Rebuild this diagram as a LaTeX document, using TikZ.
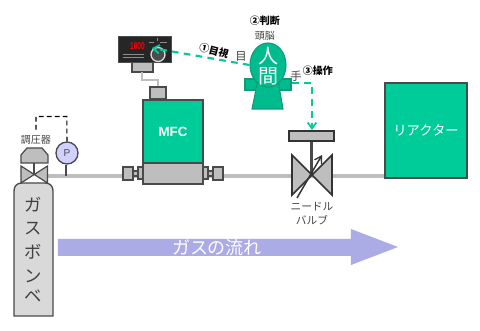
\documentclass[tikz,border=0pt]{standalone}
\usepackage{fontspec}
\setmainfont{Noto Sans CJK JP}
\newfontfamily\latinface{Liberation Sans}
\usetikzlibrary{shapes.geometric,arrows.meta,calc}
\definecolor{teal}{HTML}{00CC99}
\definecolor{mangreen}{HTML}{00BB8E}
\definecolor{manedge}{HTML}{129A78}
\definecolor{edge}{HTML}{4A4A4A}
\definecolor{metal}{HTML}{BEBEBE}
\definecolor{flow}{HTML}{ABABE6}
\definecolor{caption}{HTML}{444444}
\newcommand{\jp}[1]{\fontsize{#1}{#1}\selectfont}
\tikzset{
  metalbox/.style={draw=edge,line width=1pt,fill=metal,inner sep=0pt},
  greenbox/.style={draw=edge,line width=1.2pt,fill=teal,inner sep=0pt,text=white},
  pipe/.style={metal,line width=3.4pt},
  manpart/.style={draw=manedge,line width=0.8pt,fill=mangreen},
  cue/.style={teal,line width=1.6pt,dash pattern=on 5pt off 4pt,-{Straight Barb[length=4.5pt,width=6.5pt,line width=1.3pt]}},
  graytext/.style={text=caption,inner sep=0pt,font=\jp{7.5}},
  boldtext/.style={text=black,inner sep=0pt,font=\bfseries\jp{7.5}},
  tinymark/.style={line width=0.5pt,color=#1},
}
\begin{document}
\begin{tikzpicture}[x=0.75pt,y=-0.75pt]
\useasboundingbox (0,0) rectangle (480,331);
\fill[white] (0,0) rectangle (480,331);

% main gas line
\coordinate (linestart) at (48,176);
\coordinate (lineend) at (385,176);
\draw[pipe] (linestart) -- (lineend);

% flow arrow
\fill[flow] (58,239) -- (351,239) -- (351,229) -- (398,247) -- (351,265) -- (351,256) -- (58,256) -- cycle;
\node[text=white,inner sep=0pt,font=\jp{13.5}] (flowlabel) at (217,248) {ガスの流れ};

% reactor
\node[greenbox,minimum width=82pt*0.75,minimum height=95pt*0.75,font=\jp{10}] (reactor) at (426,130.5) {リアクター};

% cylinder
\draw[draw=edge,line width=1pt,fill=black!15] (14,316) -- (14,191) .. controls (14,186) and (17,183) .. (22,183) -- (45,183) .. controls (50,183) and (53,186) .. (53,191) -- (53,316) -- cycle;
\foreach \ch/\yy in {ガ/205,ス/229,ボ/252,ン/276,ベ/296}
  \node[text=black!75,inner sep=0pt,font=\jp{13}] at (33,\yy) {\ch};

% regulator
\draw[edge,line width=1.6pt] (34,162) -- (34,175);
\draw[draw=edge,line width=0.9pt,fill=metal] (21,166) -- (47.5,183) -- (47.5,166) -- (21,183) -- cycle;
\draw[draw=edge,line width=0.9pt,fill=metal] (21,163) -- (21,155) -- (27,148) -- (42,148) -- (48,155) -- (48,163) -- cycle;
\node[graytext] (reglabel) at (36,140) {調圧器};

% pressure gauge
\draw[edge,line width=2pt] (66,165) -- (66,176);
\node[circle,draw=edge,line width=1pt,fill=blue!18,minimum size=16.5pt,inner sep=0pt,font=\latinface\jp{7.5},text=edge] (gauge) at (67,153) {P};
\coordinate (regtap) at (36,131);
\draw[black,line width=0.8pt,dash pattern=on 3.5pt off 2.5pt] (gauge.north) -- (66.8,116.5) -- (36,116.5) -- (regtap);

% mass flow controller
\node[greenbox,minimum width=60pt*0.75,minimum height=63pt*0.75,font=\latinface\bfseries\jp{10}] (mfc) at (173,131.5) {MFC};
\node[metalbox,minimum width=60pt*0.75,minimum height=21pt*0.75] (mfcbase) at (173,173.5) {};
\node[metalbox,minimum width=16pt*0.75,minimum height=12pt*0.75] (mfctop) at (158,93) {};
\foreach \xa/\xb/\ya/\yb in {138/143/167/179, 133/138/171/176, 123/133/167/180, 203/208/167/179, 208/213/171/176, 213/223/167/180}
  \draw[draw=edge,line width=0.9pt,fill=metal] (\xa,\ya) rectangle (\xb,\yb);

% panel mount and its cable
\node[metalbox,minimum width=21pt*0.75,minimum height=10pt*0.75] (bracket) at (142.5,67) {};
\draw[edge,line width=2pt] (142,72) -- (142,80) -- (158,80) -- (mfctop.north);
\draw[metal,line width=1.1pt] (142,72) -- (142,80) -- (158,80) -- (mfctop.north);

% digital controller panel
\node[fill=black!85,draw=black!70,line width=0.5pt,minimum width=53pt*0.75,minimum height=26pt*0.75,inner sep=0pt] (panel) at (144.5,49) {};
\node[text=red,inner sep=0pt,font=\latinface\bfseries\jp{7.5},xscale=0.66] (display) at (137.5,46.5) {1000};
\foreach \yy in {54.5,57}
  \draw[tinymark=black!45] (123,\yy) -- (144,\yy);
\draw[tinymark=black!45] (149,42) -- (154,42);
\draw[tinymark=black!45] (160,42) -- (167,42);
\draw[tinymark=black!45] (157,38.5) -- (157,41);
\node[circle,draw=black!15,line width=1pt,fill=black!70,minimum size=10.5pt,inner sep=0pt] (knob) at (158,54.5) {};
\coordinate (dial) at ($(knob.center)+(-6,-6.5)$);

% person
\draw[manpart] (245,79) rectangle (291,90);
\draw[manpart] (258,80) -- (278,80) -- (283,109) -- (252,109) -- cycle;
\node[ellipse,manpart,minimum width=36pt*0.75,minimum height=44pt*0.75,inner sep=0pt] (head) at (268,65) {};
\fill[mangreen] (256.5,88) rectangle (279.5,92);
\node[text=white,inner sep=0pt,font=\jp{15}] (hito) at (268,56) {人};
\node[text=white,inner sep=0pt,font=\jp{15}] (ma) at (268,76) {間};
\coordinate (handtip) at (292,83);
\coordinate (wheel) at (312,130);

% labels around the person
\node[boldtext] (judge) at (265,21) {②判断};
\node[graytext] (brain) at (265,36) {頭脳};
\node[graytext,font=\jp{8.5}] (eye) at (241,57) {目};
\node[graytext,font=\jp{8.5}] (hand) at (296,76) {手};
\node[boldtext] (operate) at (318,71) {③操作};
\node[boldtext,rotate=-15] (watch) at (214,51) {①目視};

% needle valve
\draw[edge,line width=1.6pt] (311.5,141) -- (311.5,175);
\draw[draw=black!80,line width=1.2pt,fill=metal] (292,155) -- (332,195) -- (332,155) -- (292,195) -- cycle;
\node[draw=black!80,line width=1.1pt,fill=metal,minimum width=45pt*0.75,minimum height=10pt*0.75,inner sep=0pt] (handle) at (311.5,136) {};
\draw[black!80,line width=1.1pt,-{Straight Barb[length=5pt,width=6pt,line width=1pt]}] (297,198) -- (322,155);
\node[graytext,font=\jp{8}] (needle1) at (312,207) {ニードル};
\node[graytext,font=\jp{8}] (needle2) at (312,220) {バルブ};

% observation and operation paths
\draw[cue] (head.west) -- (dial);
\draw[cue] (handtip) -- (wheel |- handtip) -- (wheel);
\end{tikzpicture}
\end{document}
